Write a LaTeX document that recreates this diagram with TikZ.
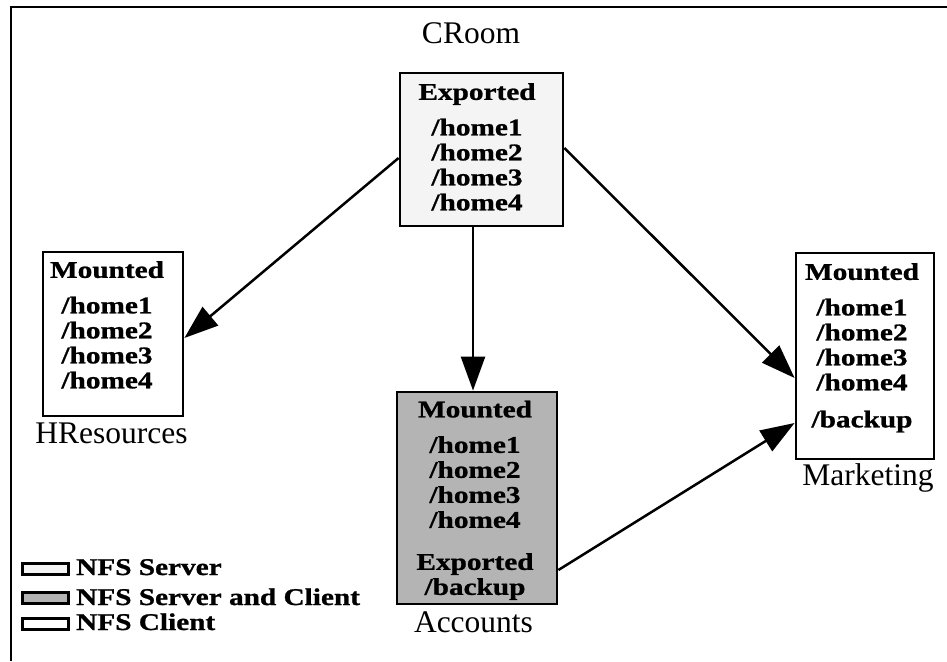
\documentclass[tikz,border=0pt]{standalone}
\usepackage{fontspec}
\setmainfont{Liberation Serif}
\newfontfamily\boxfont[FakeStretch=1.22,FakeBold=1]{Liberation Serif}
\usetikzlibrary{arrows.meta}
\definecolor{srvfill}{RGB}{244,244,244}
\definecolor{bothfill}{RGB}{180,180,180}
\begin{document}
\begin{tikzpicture}[x=1pt,y=-1pt,
  box/.style={draw=black, line width=2.8pt, inner sep=0pt},
  boxtxt/.style={font=\boxfont\bfseries\fontsize{24}{25}\selectfont, align=center, inner sep=0pt, anchor=north},
  lbl/.style={font=\fontsize{31.5}{36}\selectfont, inner sep=0pt, anchor=base},
  arr/.style={line width=2.5pt, -{Triangle[length=34pt,width=24pt]}},
  legbox/.style={draw=black, line width=3pt, inner sep=0pt, minimum width=46pt, minimum height=11pt},
  legtxt/.style={font=\boxfont\bfseries\fontsize{24}{25}\selectfont, inner sep=0pt, anchor=base west}]
\useasboundingbox (0,0) rectangle (947,661);
\draw[line width=2pt] (11,661) -- (11,7) -- (947,7);

% boxes
\node[box, fill=srvfill, minimum width=163pt, minimum height=153pt] (croom) at (481.5,149.5) {};
\node[box, fill=white, minimum width=140pt, minimum height=164pt] (hr) at (113,334) {};
\node[box, fill=bothfill, minimum width=160pt, minimum height=212pt] (acc) at (477,498) {};
\node[box, fill=white, minimum width=138pt, minimum height=206pt] (mkt) at (865,356) {};

% box texts
\node[boxtxt] (croomtxt) at (477,83) {Exported\\[10.5pt]/home1\\/home2\\/home3\\/home4};
\node[boxtxt] (hrtxt) at (107,261) {Mounted\\[10.5pt]/home1\\/home2\\/home3\\/home4};
\node[boxtxt] (acctxt) at (475,400.5) {Mounted\\[10.5pt]/home1\\/home2\\/home3\\/home4\\[17pt]Exported\\/backup};
\node[boxtxt] (mkttxt) at (862,263) {Mounted\\[10.5pt]/home1\\/home2\\/home3\\/home4\\[12pt]/backup};

% labels
\node[lbl] (croomlbl) at (471,44) {CRoom};
\node[lbl] (hrlbl) at (111.5,443) {HResources};
\node[lbl] (acclbl) at (473.5,632) {Accounts};
\node[lbl] (mktlbl) at (868,485) {Marketing};

% arrows
\draw[arr] ([yshift=-8.5pt]croom.west) -- ([yshift=-4pt]hr.east);
\draw[arr] ([xshift=-4pt]acc.north |- croom.south) -- ([xshift=-4pt]acc.north);
\draw[arr] ([yshift=1.5pt]croom.east) -- ([yshift=-22pt]mkt.west);
\draw[arr] ([yshift=-72pt]acc.east) -- ([yshift=-67pt]mkt.west);

% legend
\node[legbox, fill=srvfill] (leg1) at (45.5,569) {};
\node[legbox, fill=bothfill] (leg2) at (45.5,598) {};
\node[legbox, fill=white] (leg3) at (45.5,624) {};
\node[legtxt] (legt1) at (76,575) {NFS Server};
\node[legtxt] (legt2) at (76,605) {NFS Server and Client};
\node[legtxt] (legt3) at (76,630) {NFS Client};
\end{tikzpicture}
\end{document}
